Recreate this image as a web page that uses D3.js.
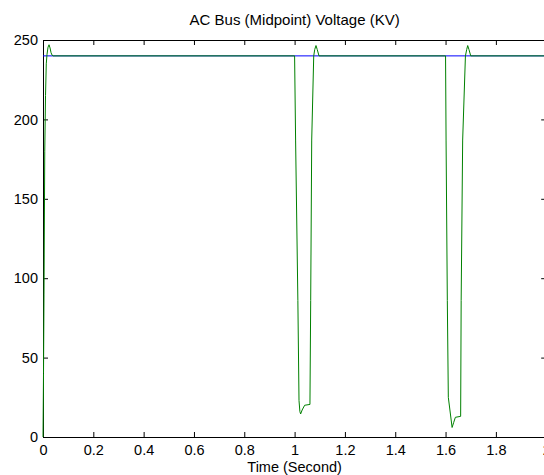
<!DOCTYPE html>
<html>
<head>
<meta charset="utf-8">
<script src="https://cdn.jsdelivr.net/npm/d3@7"></script>
<style>
  html, body { margin: 0; padding: 0; background: #fff; overflow: hidden; }
  text { font-family: "Liberation Sans", Arial, sans-serif; }
</style>
</head>
<body>
<svg id="chart" width="544" height="475"></svg>
<script>
// ---- data ----
const titleText = "AC Bus (Midpoint) Voltage (KV)";
const xLabelText = "Time (Second)";
const xTicks = [0, 0.2, 0.4, 0.6, 0.8, 1, 1.2, 1.4, 1.6, 1.8, 2];
const yTicks = [0, 50, 100, 150, 200, 250];
const referenceTime = [0, 2];
const referenceVoltage = [240, 240];
const time = [
  0, 0.002, 0.004, 0.007, 0.010, 0.013, 0.016, 0.020, 0.024, 0.028, 0.032, 0.036, 0.040,
  1.000, 1.004, 1.013, 1.0175, 1.021, 1.024, 1.030, 1.040, 1.061, 1.064, 1.068, 1.076, 1.080, 1.085, 1.090, 1.097,
  1.600, 1.602, 1.607, 1.611, 1.626, 1.632, 1.639, 1.660, 1.662, 1.668, 1.679, 1.684, 1.688, 1.693, 1.700,
  2.000
];
const voltage = [
  0, 40, 90, 180, 215, 235, 241, 245.5, 247, 245, 242, 240.5, 240,
  240, 187, 86, 23, 16, 14.5, 17, 20, 20.5, 86, 187, 240, 244, 246.5, 244, 240,
  240, 187, 86, 25, 6, 9, 12.4, 13, 86, 187, 240, 244, 246.5, 244, 240,
  240
];

// ---- layout ----
const svg = d3.select("#chart");
const mLeft = 43, mRight = 546.2, mTop = 40, mBottom = 437;
const x = d3.scaleLinear().domain([0, 2]).range([mLeft, mRight]);
const y = d3.scaleLinear().domain([0, 250]).range([mBottom, mTop]);
const fontSize = 14.5;
const titleSize = 15;

// axes
const fmt = d => String(d);
const gB = svg.append("g").attr("transform", `translate(0,${mBottom})`)
  .call(d3.axisBottom(x).tickValues(xTicks).tickFormat(fmt).tickSizeInner(-5).tickSizeOuter(0).tickPadding(8));
const gT = svg.append("g").attr("transform", `translate(0,${mTop})`)
  .call(d3.axisTop(x).tickValues(xTicks).tickFormat("").tickSizeInner(-5).tickSizeOuter(0));
const gL = svg.append("g").attr("transform", `translate(${mLeft},0)`)
  .call(d3.axisLeft(y).tickValues(yTicks).tickFormat(fmt).tickSizeInner(-5).tickSizeOuter(0).tickPadding(5));
const gR = svg.append("g").attr("transform", `translate(${mRight},0)`)
  .call(d3.axisRight(y).tickValues(yTicks).tickFormat("").tickSizeInner(-5).tickSizeOuter(0));
[gB, gT, gL, gR].forEach(g => {
  g.selectAll("path.domain").attr("stroke", "#000").attr("stroke-width", 1);
  g.selectAll(".tick line").attr("stroke", "#000");
  g.selectAll(".tick text").attr("fill", "#000").style("font-size", fontSize + "px")
    .style("font-family", "'Liberation Sans', Arial, sans-serif");
});

// reference line (blue) then data (green), drawn over the axes
const line = d3.line().x(d => x(d[0])).y(d => y(d[1]));
svg.append("path")
  .datum(referenceTime.map((t, i) => [t, referenceVoltage[i]]))
  .attr("d", line).attr("fill", "none").attr("stroke", "#0000ff").attr("stroke-width", 1);
svg.append("path")
  .datum(time.map((t, i) => [t, voltage[i]]))
  .attr("d", line).attr("fill", "none").attr("stroke", "#008000").attr("stroke-width", 1);

svg.append("text").attr("x", (mLeft + mRight) / 2).attr("y", 25)
  .attr("text-anchor", "middle").style("font-size", titleSize + "px").text(titleText);
svg.append("text").attr("x", (mLeft + mRight) / 2).attr("y", 472)
  .attr("text-anchor", "middle").style("font-size", fontSize + "px").text(xLabelText);
</script>
</body>
</html>
